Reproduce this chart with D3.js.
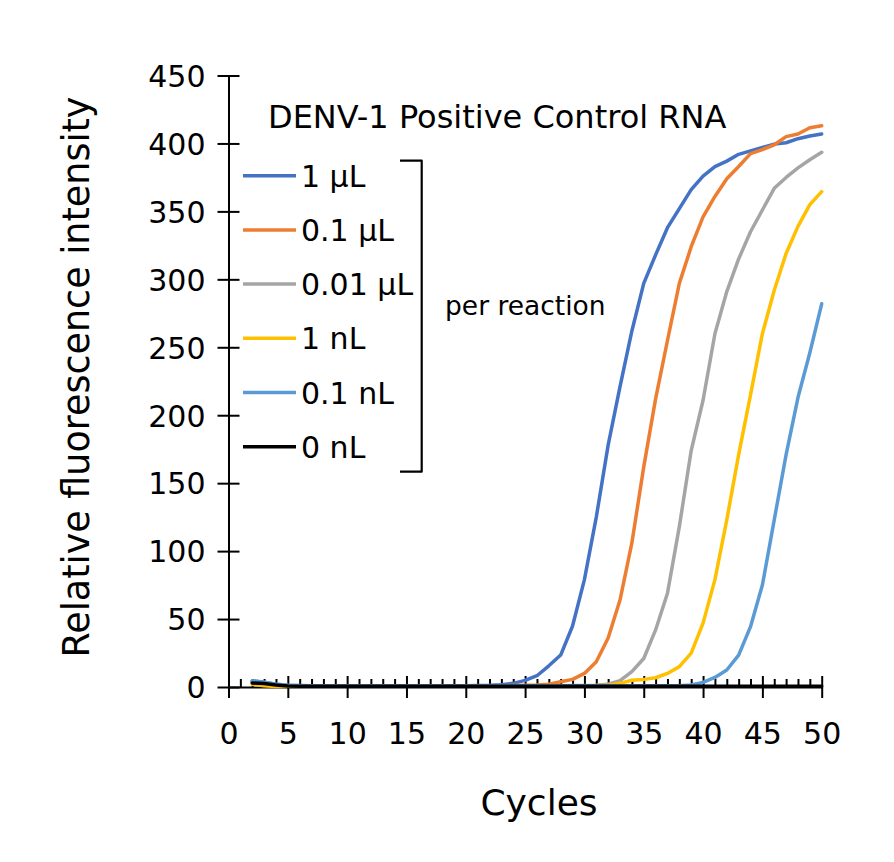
<!DOCTYPE html>
<html>
<head>
<meta charset="utf-8">
<script src="https://cdn.jsdelivr.net/npm/d3@7/dist/d3.min.js"></script>
<style>
  body { margin: 0; background: #fff; }
  svg { display: block; }
  text { font-family: "DejaVu Sans", Verdana, sans-serif; fill: #000; }
</style>
</head>
<body>
<svg id="chart" width="894" height="862"></svg>
<script>
// qPCR amplification curves, DENV-1 positive control RNA
const cycles = [2, 3, 4, 5, 6, 7, 8, 9, 10, 11, 12, 13, 14, 15, 16, 17, 18, 19, 20, 21, 22, 23, 24, 25, 26,
  27, 28, 29, 30, 31, 32, 33, 34, 35, 36, 37, 38, 39, 40, 41, 42, 43, 44, 45, 46, 47, 48, 49, 50];

const seriesNames = ['1 µL', '0.1 µL', '0.01 µL', '1 nL', '0.1 nL', '0 nL'];
const seriesColors = ['#4472C4', '#ED7D31', '#A5A5A5', '#FFC000', '#5B9BD5', '#000000'];

const vol1uL = [4.5, 3.5, 2.0, 1.3, 1.1, 1.0, 1.0, 0.9, 0.9, 1.0, 0.9, 0.9, 1.0, 0.9, 1.0, 1.0, 0.9, 1.0, 1.0, 1.1,
  1.2, 1.6, 2.7, 4.9, 8.3, 15.6, 23.5, 44.9, 79, 125, 178, 221, 262, 297, 318, 338, 352, 366, 376, 383,
  387, 392, 394.5, 397, 399.5, 400.5, 403.5, 405.5, 407];
const vol01uL = [3.5, 2.5, 1.5, 1.1, 1.0, 1.0, 0.9, 1.0, 0.9, 1.0, 1.0, 0.9, 1.0, 1.0, 0.9, 1.0, 1.0, 0.9, 1.0, 1.0,
  1.0, 1.0, 1.1, 1.2, 1.4, 2.0, 3.9, 5.6, 10, 18.6, 36, 64, 106, 162, 212, 255, 297, 324, 346, 361,
  374, 383, 392.5, 395.5, 399, 405, 407, 411.5, 413];
const vol001uL = [4.0, 3.0, 1.5, 1.1, 1.0, 1.0, 0.9, 1.0, 1.0, 0.9, 1.0, 1.0, 1.0, 0.9, 1.0, 1.0, 1.0, 0.9, 1.0, 1.0,
  1.0, 1.0, 0.9, 1.0, 1.0, 1.0, 1.0, 1.1, 1.1, 1.3, 2.0, 4.7, 11.3, 21, 42, 69, 118, 174, 211, 260,
  291, 315, 335, 351, 367, 375, 382, 388, 393.5];
const vol1nL = [2.0, 1.0, 0.3, 0.5, 0.7, 0.8, 0.8, 0.8, 0.8, 0.8, 0.8, 0.8, 0.8, 0.8, 0.8, 0.8, 0.8, 0.8, 0.8, 0.8,
  0.8, 0.8, 0.8, 0.8, 0.8, 0.8, 0.8, 0.9, 0.9, 1.0, 1.2, 2.7, 5.0, 5.6, 6.8, 10, 15, 25, 47, 79,
  123, 171, 215, 260, 292, 319, 339, 355, 364.5];
const vol01nL = [4.5, 3.5, 2.0, 1.3, 1.0, 1.0, 1.0, 1.0, 1.0, 1.0, 1.0, 1.0, 1.0, 1.0, 1.0, 1.0, 1.0, 1.0, 1.0, 1.0,
  1.0, 1.0, 1.0, 1.0, 1.0, 1.0, 1.0, 1.0, 1.0, 1.0, 1.0, 1.0, 1.0, 1.0, 1.0, 1.0, 1.0, 1.5, 3.4, 7,
  12.5, 23.5, 44.4, 75, 123, 171, 213, 246, 282];
const vol0nL = [3.0, 2.5, 1.5, 0.8, 0.5, 0.5, 0.5, 0.5, 0.5, 0.5, 0.5, 0.5, 0.5, 0.5, 0.5, 0.5, 0.5, 0.5, 0.5, 0.5,
  0.5, 0.5, 0.5, 0.5, 0.5, 0.5, 0.5, 0.5, 0.5, 0.5, 0.5, 0.5, 0.5, 0.5, 0.5, 0.5, 0.5, 0.5, 0.5, 0.5,
  0.5, 0.5, 0.5, 0.5, 0.5, 0.5, 0.5, 0.5, 0.5];

const seriesValues = [vol1uL, vol01uL, vol001uL, vol1nL, vol01nL, vol0nL];

const xTicks = [0, 5, 10, 15, 20, 25, 30, 35, 40, 45, 50];
const yTicks = [0, 50, 100, 150, 200, 250, 300, 350, 400, 450];

const chartTitle = 'DENV-1 Positive Control RNA';
const bracketLabel = 'per reaction';
const xTitle = 'Cycles';
const yTitle = 'Relative fluorescence intensity';

// layout
const PLOT = { left: 228.5, right: 821.7, top: 75.5, bottom: 687 };
const TICK = 11;
const MINOR = 8;

const svg = d3.select('#chart');

const x = d3.scaleLinear().domain([0, 50]).range([PLOT.left, PLOT.right]);
const y = d3.scaleLinear().domain([0, 450]).range([PLOT.bottom, PLOT.top]);

// minor ticks (every cycle, inside)
const minorTicks = d3.range(0, 51).filter((d) => d % 5 !== 0);
const minorG = svg.append('g').attr('transform', `translate(0,${PLOT.bottom})`)
  .call(d3.axisBottom(x).tickValues(minorTicks).tickSizeInner(-MINOR).tickSizeOuter(0).tickFormat(''));
minorG.select('.domain').remove();

// x axis with crossing major ticks
const xAxisG = svg.append('g').attr('transform', `translate(0,${PLOT.bottom})`)
  .call(d3.axisBottom(x).tickValues(xTicks).tickSizeInner(TICK).tickSizeOuter(0));
xAxisG.selectAll('.tick line').attr('y1', -TICK).attr('y2', TICK);
xAxisG.selectAll('.tick text').attr('y', 36).style('font-size', '30px');

// y axis with crossing major ticks
const yAxisG = svg.append('g').attr('transform', `translate(${PLOT.left},0)`)
  .call(d3.axisLeft(y).tickValues(yTicks).tickSizeInner(TICK).tickSizeOuter(0));
yAxisG.selectAll('.tick line').attr('x1', TICK).attr('x2', -TICK);
yAxisG.selectAll('.tick text').attr('x', -23).attr('dy', '0.36em').style('font-size', '30px');

[minorG, xAxisG, yAxisG].forEach((axis) => {
  axis.selectAll('path,line').attr('stroke', '#000').attr('stroke-width', 2);
  axis.selectAll('text').attr('fill', '#000').style('font-family', '"DejaVu Sans", Verdana, sans-serif');
});

// curves
const line = d3.line()
  .x((d) => x(d.cycle))
  .y((d) => y(d.value));

seriesValues.forEach((values, i) => {
  const pts = cycles.map((c, j) => ({ cycle: c, value: values[j] }));
  svg.append('path')
    .datum(pts)
    .attr('fill', 'none')
    .attr('stroke', seriesColors[i])
    .attr('stroke-width', 3.5)
    .attr('stroke-linejoin', 'round')
    .attr('stroke-linecap', 'round')
    .attr('d', line);
});

// title
svg.append('text')
  .attr('x', 268).attr('y', 128)
  .style('font-size', '32px')
  .text(chartTitle);

// legend
const LEG = { x0: 243, x1: 296, top: 175.7, step: 54.2 };
const legend = svg.append('g');
seriesNames.forEach((name, i) => {
  const ly = LEG.top + i * LEG.step;
  legend.append('line')
    .attr('x1', LEG.x0).attr('x2', LEG.x1)
    .attr('y1', ly).attr('y2', ly)
    .attr('stroke', seriesColors[i])
    .attr('stroke-width', 3.5);
  legend.append('text')
    .attr('x', LEG.x1 + 5).attr('y', ly + 11)
    .style('font-size', '30px')
    .text(name);
});

// bracket
svg.append('path')
  .attr('d', 'M400,160.7 H421.7 V471.7 H400')
  .attr('fill', 'none')
  .attr('stroke', '#000')
  .attr('stroke-width', 2.2)
  .attr('stroke-linejoin', 'round');

svg.append('text')
  .attr('x', 445).attr('y', 315)
  .style('font-size', '26.5px')
  .text(bracketLabel);

// axis titles
svg.append('text')
  .attr('x', 539).attr('y', 815)
  .attr('text-anchor', 'middle')
  .style('font-size', '36px')
  .text(xTitle);

svg.append('text')
  .attr('transform', 'translate(89,377) rotate(-90)')
  .attr('text-anchor', 'middle')
  .style('font-size', '36.5px')
  .text(yTitle);
</script>
</body>
</html>
